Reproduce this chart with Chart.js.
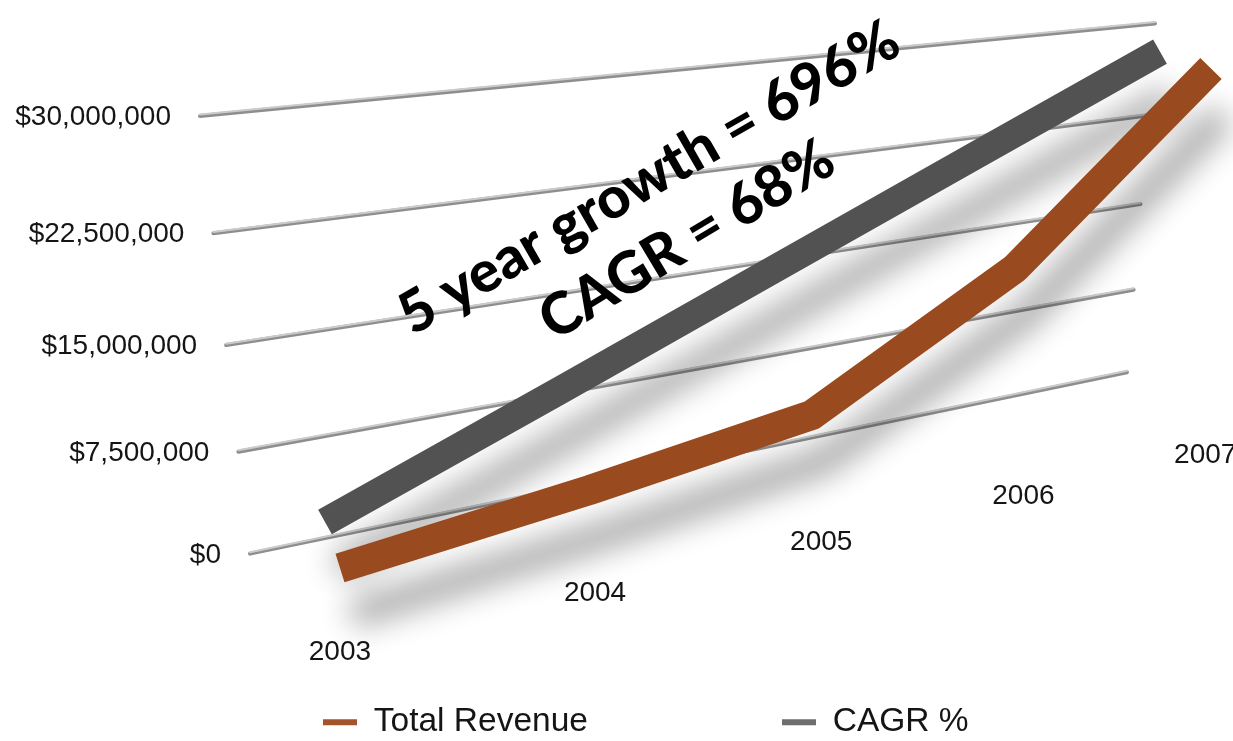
<!DOCTYPE html>
<html>
<head>
<meta charset="utf-8">
<script src="https://cdn.jsdelivr.net/npm/chart.js@4.4.1/dist/chart.umd.min.js"></script>
<style>
  html, body { margin: 0; padding: 0; background: #ffffff; }
  #wrap { width: 1233px; height: 741px; position: relative; overflow: hidden; }
</style>
</head>
<body>
<div id="wrap"><canvas id="c" width="1233" height="741"></canvas></div>
<script>
// ---------------- data ----------------
const years = ['2003', '2004', '2005', '2006', '2007'];
const totalRevenue = [1130000, 2970000, 5250000, 13960000, 27600000];
const cagrLine = [1140000, 7700000, 14350000, 21000000, 27600000];
const yTickValues = [0, 7500000, 15000000, 22500000, 30000000];
const seriesNames = ['Total Revenue', 'CAGR %'];
const annotationLines = ['5 year growth = 696%', 'CAGR = 68%'];

// ---------------- styles ----------------
const seriesColors = ['#994a1f', '#525252'];
const legendColors = ['#a4542a', '#6e6e6e'];
const seriesWidths = [30, 28];
const seriesDepth = [-0.0527, 0];       // 3D depth of each series row
const labelFont = "'Liberation Sans', Arial, sans-serif";

// perspective view (homography of the back wall + depth toward the viewer)
const VIEW = { a: 1190.8, b: -67.97, c: 250, d: -78.0, e: -447.95, f: 552.8,
               g: 0.27844, h: -0.08984, vx: 51, vy: -316, u0: 0.0695, us: 0.9407 };
function project(s, t, k) {
  const u = VIEW.u0 + VIEW.us * s;
  const w = VIEW.g * u + VIEW.h * t + 1 + k;
  return { x: (VIEW.a * u + VIEW.b * t + VIEW.c + VIEW.vx * k) / w,
           y: (VIEW.d * u + VIEW.e * t + VIEW.f + VIEW.vy * k) / w };
}
const fmtMoney = v => '$' + Number(v).toLocaleString('en-US');

function norm(chart, px, py) {
  const a = chart.chartArea;
  return { s: (px - a.left) / (a.right - a.left), t: (a.bottom - py) / (a.bottom - a.top) };
}

const perspective = {
  id: 'perspective',
  afterDatasetsUpdate(chart) {
    chart.data.datasets.forEach((ds, i) => {
      const meta = chart.getDatasetMeta(i);
      meta.data.forEach(pt => {
        const n = norm(chart, pt.x, pt.y);
        const q = project(n.s, n.t, seriesDepth[i]);
        pt.x = q.x; pt.y = q.y;
      });
      if (meta.dataset) { meta.dataset._path = undefined; }
    });
  },
  beforeDatasetsDraw(chart) {
    const ctx = chart.ctx;
    const ys = chart.scales.y, xs = chart.scales.x;
    const s0 = (0 - VIEW.u0) / VIEW.us, s1 = (1 - VIEW.u0) / VIEW.us;
    ctx.save();
    // grid lines on the back wall
    ys.ticks.forEach(tk => {
      const n = norm(chart, 0, ys.getPixelForValue(tk.value));
      const p0 = project(s0, n.t, 0), p1 = project(s1, n.t, 0);
      ctx.lineCap = 'round';
      ctx.strokeStyle = '#8e8e8e'; ctx.lineWidth = 4;
      ctx.beginPath(); ctx.moveTo(p0.x, p0.y + 0.8); ctx.lineTo(p1.x, p1.y + 0.8); ctx.stroke();
      ctx.strokeStyle = '#cbcbcb'; ctx.lineWidth = 2;
      ctx.beginPath(); ctx.moveTo(p0.x, p0.y - 0.6); ctx.lineTo(p1.x, p1.y - 0.6); ctx.stroke();
    });
    // value labels
    ctx.fillStyle = '#151515';
    ctx.font = '28px ' + labelFont;
    ctx.textAlign = 'right'; ctx.textBaseline = 'middle';
    ys.ticks.forEach(tk => {
      const n = norm(chart, 0, ys.getPixelForValue(tk.value));
      const p0 = project(s0, n.t, 0);
      ctx.fillText(tk.label !== undefined && tk.label !== '' ? tk.label : fmtMoney(tk.value), p0.x - 29, p0.y + 2);
    });
    // category labels on the floor in front
    ctx.textAlign = 'center';
    xs.ticks.forEach((tk, i) => {
      const n = norm(chart, xs.getPixelForTick(i), 0);
      const p = project(n.s, -0.17, -0.0527);
      ctx.fillText(xs.getLabelForValue(tk.value), p.x - 8 + 38 * n.s, p.y);
    });
    ctx.restore();
  },
  beforeDatasetDraw(chart) {
    const ctx = chart.ctx;
    ctx.save();
    ctx.shadowColor = 'rgba(0,0,0,0.32)';
    ctx.shadowBlur = 30;
    ctx.shadowOffsetX = 12;
    ctx.shadowOffsetY = 46;
  },
  afterDatasetDraw(chart) {
    chart.ctx.restore();
  },
  afterDraw(chart) {
    const ctx = chart.ctx;
    ctx.save();
    ctx.fillStyle = '#000000';
    ctx.textAlign = 'center'; ctx.textBaseline = 'middle';
    const fam = "Lato, 'Open Sans', sans-serif";
    ctx.font = '900 60px ' + fam;
    const w = ctx.measureText(annotationLines[0]).width;
    const size = 60 * 568 / w;
    ctx.font = '900 ' + size.toFixed(1) + 'px ' + fam;
    const spots = [{ x: 649, y: 178, r: -30.0 }, { x: 687, y: 240, r: -31.0 }];
    annotationLines.forEach((txt, i) => {
      ctx.save();
      ctx.translate(spots[i].x, spots[i].y);
      ctx.rotate(spots[i].r * Math.PI / 180);
      ctx.fillText(txt, 0, 0);
      ctx.restore();
    });
    ctx.restore();
  }
};

// legend spacing so that the items sit where the original places them
const LEG_FONT = 33.5, LEG_BOX = 34;
const mctx = document.createElement('canvas').getContext('2d');
mctx.font = LEG_FONT + 'px ' + labelFont;
const tw0 = mctx.measureText(seriesNames[0]).width;
const legendPad = 782 - 323 - (LEG_BOX + LEG_FONT / 2 + tw0);

new Chart(document.getElementById('c'), {
  type: 'line',
  data: {
    labels: years,
    datasets: [
      { label: seriesNames[0], data: totalRevenue, borderColor: seriesColors[0], backgroundColor: legendColors[0],
        borderWidth: seriesWidths[0], pointRadius: 0, pointHoverRadius: 0, tension: 0, fill: false,
        borderJoinStyle: 'round', borderCapStyle: 'butt', clip: false },
      { label: seriesNames[1], data: cagrLine, borderColor: seriesColors[1], backgroundColor: legendColors[1],
        borderWidth: seriesWidths[1], pointRadius: 0, pointHoverRadius: 0, tension: 0, fill: false,
        borderJoinStyle: 'round', borderCapStyle: 'butt', clip: false }
    ]
  },
  options: {
    responsive: false,
    animation: false,
    events: [],
    layout: { padding: { left: 323 - legendPad, right: 0, top: 0, bottom: -8 } },
    scales: {
      x: { type: 'category', grid: { display: false }, border: { display: false }, ticks: { display: false } },
      y: { type: 'linear', min: 0, max: 30000000,
           grid: { display: false }, border: { display: false },
           ticks: { display: false, callback: v => fmtMoney(v) },
           afterBuildTicks: scale => { scale.ticks = yTickValues.map(v => ({ value: v })); } }
    },
    plugins: {
      tooltip: { enabled: false },
      legend: {
        position: 'bottom', align: 'start',
        labels: {
          boxWidth: LEG_BOX, boxHeight: 6, padding: legendPad, color: '#151515',
          font: { family: labelFont, size: LEG_FONT },
          generateLabels: chart => {
            const items = Chart.defaults.plugins.legend.labels.generateLabels(chart);
            items.forEach(it => { it.lineWidth = 0; it.strokeStyle = 'rgba(0,0,0,0)'; });
            return items;
          }
        }
      }
    }
  },
  plugins: [perspective]
});
</script>
</body>
</html>
